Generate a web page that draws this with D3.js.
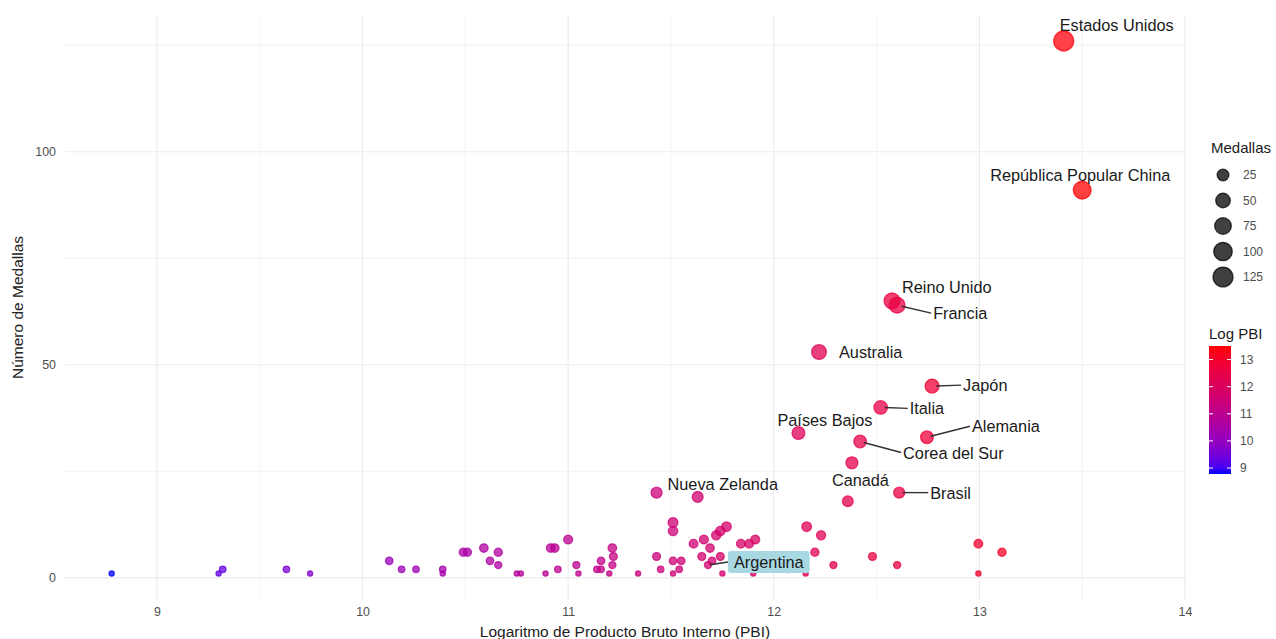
<!DOCTYPE html>
<html>
<head>
<meta charset="utf-8">
<script src="https://cdn.jsdelivr.net/npm/d3@7"></script>
<style>
  html, body { margin: 0; padding: 0; background: #ffffff; }
  svg { display: block; font-family: "Liberation Sans", Arial, sans-serif; }
</style>
</head>
<body>
<svg id="chart" width="1276" height="639"></svg>
<script>
// ---------------- DATA ----------------
const countries = [
  "Estados Unidos", "República Popular China", "Reino Unido", "Francia", "Australia",
  "Japón", "Italia", "Países Bajos", "Alemania", "Corea del Sur", "Canadá", "Brasil",
  "Nueva Zelanda", "Argentina"
];
const countryLogPBI = [13.41, 13.50, 12.575, 12.60, 12.22, 12.77, 12.52, 12.12, 12.745, 12.42, 12.38, 12.61, 11.43, 11.68];
const countryMedals = [126, 91, 65, 64, 53, 45, 40, 34, 33, 32, 27, 20, 20, 3];

// unlabelled countries
const otherLogPBI = [
  11.63, 12.36, 11.51, 11.51, 11.72, 11.74, 11.77, 12.16, 12.23, 11.00,
  11.66, 11.91, 11.61, 11.84, 11.88, 12.995, 10.59, 10.915, 10.935, 11.215,
  11.69, 10.49, 10.51, 10.66, 12.20, 13.11, 11.22, 11.43, 11.65, 11.74,
  12.48, 10.13, 10.62, 11.16, 11.51, 11.55, 11.70, 10.66, 11.04, 11.215,
  12.29, 12.60, 9.32, 9.63, 10.19, 10.26, 10.39, 10.95, 11.14, 11.16,
  11.45, 11.54, 12.07, 8.78, 9.30, 9.745, 10.39, 10.75, 10.77, 10.89,
  11.05, 11.20, 11.34, 11.51, 11.75, 11.90, 12.155, 12.995
];
const otherMedals = [
  19, 18, 13, 11, 10, 11, 12, 12, 10, 9,
  9, 9, 8, 8, 8, 8, 7, 7, 7, 7,
  7, 6, 6, 6, 6, 6, 5, 5, 5, 5,
  5, 4, 4, 4, 4, 4, 4, 3, 3, 3,
  3, 3, 2, 2, 2, 2, 2, 2, 2, 2,
  2, 2, 2, 1, 1, 1, 1, 1, 1, 1,
  1, 1, 1, 1, 1, 1, 1, 1
];

const xTicks = [9, 10, 11, 12, 13, 14];
const yTicks = [0, 50, 100];
const sizeLegendValues = [25, 50, 75, 100, 125];
const colorLegendTicks = [9, 10, 11, 12, 13];

const xTitle = "Logaritmo de Producto Bruto Interno (PBI)";
const yTitle = "Número de Medallas";
const sizeTitle = "Medallas";
const colorTitle = "Log PBI";

// ---------------- LAYOUT ----------------
const panel = { left: 65, right: 1185, top: 15, bottom: 600 };

// label placement relative to the point (px): text left edge dx, vertical centre dy, draw segment?
const labelLayout = {
  "Estados Unidos":          { dx: -4,  dy: -16, seg: false },
  "República Popular China": { dx: -92, dy: -15, seg: false },
  "Reino Unido":             { dx: 10,  dy: -14, seg: false },
  "Francia":                 { dx: 36,  dy: 8,   seg: true },
  "Australia":               { dx: 20,  dy: 0,   seg: false },
  "Japón":                   { dx: 31,  dy: -1,  seg: true },
  "Italia":                  { dx: 29,  dy: 1,   seg: true },
  "Países Bajos":            { dx: -21, dy: -13, seg: false },
  "Alemania":                { dx: 45,  dy: -11, seg: true },
  "Corea del Sur":           { dx: 43,  dy: 11,  seg: true },
  "Canadá":                  { dx: -20, dy: 17,  seg: false },
  "Brasil":                  { dx: 31,  dy: 0,   seg: true },
  "Nueva Zelanda":           { dx: 11,  dy: -9,  seg: false },
  "Argentina":               { dx: 26,  dy: -3,  seg: true, box: true }
};

// ---------------- BUILD ----------------
const labelled = countries.map((c, i) => ({ name: c, x: countryLogPBI[i], y: countryMedals[i] }));
const others = otherLogPBI.map((v, i) => ({ name: null, x: v, y: otherMedals[i] }));
const all = others.concat(labelled);

const svg = d3.select("#chart");

const x = d3.scaleLinear().domain([8.553, 14.0]).range([panel.left, panel.right]);
const y = d3.scaleLinear().domain([-5.2, 132.1]).range([panel.bottom, panel.top]);

const allX = all.map(d => d.x);
const allY = all.map(d => d.y);
const colorDomain = d3.extent(allX);
const color = d3.scaleLinear().domain(colorDomain).range(["blue", "red"]).interpolate(d3.interpolateLab);

const sizeDomain = d3.extent(allY);
const rMin = 2.6, rMax = 10;
const radius = v => rMin + (rMax - rMin) * Math.sqrt(Math.max(0, (v - sizeDomain[0]) / (sizeDomain[1] - sizeDomain[0])));

// grid
const grid = svg.append("g");
const xMinor = d3.range(9.5, 14, 1).filter(v => x(v) > panel.left && x(v) < panel.right);
const yMinor = [25, 75, 125];
grid.selectAll(".xminor").data(xMinor).join("line")
  .attr("x1", d => x(d)).attr("x2", d => x(d))
  .attr("y1", panel.top).attr("y2", panel.bottom)
  .attr("stroke", "#ebebeb").attr("stroke-width", 0.6);
grid.selectAll(".yminor").data(yMinor).join("line")
  .attr("x1", panel.left).attr("x2", panel.right)
  .attr("y1", d => y(d)).attr("y2", d => y(d))
  .attr("stroke", "#ebebeb").attr("stroke-width", 0.6);
grid.selectAll(".xmajor").data(xTicks).join("line")
  .attr("x1", d => x(d)).attr("x2", d => x(d))
  .attr("y1", panel.top).attr("y2", panel.bottom)
  .attr("stroke", "#ebebeb").attr("stroke-width", 1.1);
grid.selectAll(".ymajor").data(yTicks).join("line")
  .attr("x1", panel.left).attr("x2", panel.right)
  .attr("y1", d => y(d)).attr("y2", d => y(d))
  .attr("stroke", "#ebebeb").attr("stroke-width", 1.1);

// axes (text only, like theme_minimal)
const xAxis = svg.append("g").attr("transform", `translate(0,${panel.bottom + 3})`)
  .call(d3.axisBottom(x).tickValues(xTicks).tickFormat(d3.format("d")).tickSize(0));
xAxis.select(".domain").remove();
xAxis.selectAll("text").attr("fill", "#4d4d4d").style("font-size", "12.4px")
  .style("font-family", "'Liberation Sans', Arial, sans-serif").attr("dy", "0.71em").attr("y", 4);

const yAxis = svg.append("g").attr("transform", `translate(${panel.left - 6},0)`)
  .call(d3.axisLeft(y).tickValues(yTicks).tickFormat(d3.format("d")).tickSize(0));
yAxis.select(".domain").remove();
yAxis.selectAll("text").attr("fill", "#4d4d4d").style("font-size", "12.4px")
  .style("font-family", "'Liberation Sans', Arial, sans-serif").attr("x", -3);

svg.append("text").attr("x", (panel.left + panel.right) / 2).attr("y", 631)
  .attr("text-anchor", "middle").attr("dominant-baseline", "central")
  .style("font-size", "15.5px").attr("fill", "#222").text(xTitle);
svg.append("text").attr("transform", `translate(17,${(panel.top + panel.bottom) / 2}) rotate(-90)`)
  .attr("text-anchor", "middle").attr("dominant-baseline", "central")
  .style("font-size", "15.5px").attr("fill", "#222").text(yTitle);

// points
const alpha = 0.75;
svg.append("g").selectAll("circle").data(all).join("circle")
  .attr("cx", d => x(d.x)).attr("cy", d => y(d.y)).attr("r", d => radius(d.y))
  .attr("fill", d => color(d.x)).attr("fill-opacity", alpha)
  .attr("stroke", d => color(d.x)).attr("stroke-opacity", alpha).attr("stroke-width", 1.3);

// labels
const labelFont = 16.3;
const lab = svg.append("g");
labelled.forEach(d => {
  const L = labelLayout[d.name];
  const px = x(d.x), py = y(d.y);
  const tx = px + L.dx, ty = py + L.dy;
  const t = lab.append("text").attr("x", tx).attr("y", ty)
    .attr("dominant-baseline", "central")
    .style("font-size", labelFont + "px").attr("fill", "#1a1a1a").text(d.name);
  const w = t.node().getComputedTextLength();
  let edgeX = tx - 2, edgeY = ty;
  if (L.box) {
    const pad = 6;
    lab.insert("rect", "text")
      .attr("x", tx - pad).attr("y", ty - 11).attr("width", w + 2 * pad).attr("height", 22)
      .attr("rx", 3).attr("fill", "#a8d8e2");
    edgeX = tx - pad;
  }
  if (L.seg) {
    const r = radius(d.y);
    const ang = Math.atan2(edgeY - py, edgeX - px);
    lab.insert("line", ":first-child")
      .attr("x1", px + Math.cos(ang) * r * 0.6).attr("y1", py + Math.sin(ang) * r * 0.6)
      .attr("x2", edgeX).attr("y2", edgeY)
      .attr("stroke", "#333").attr("stroke-width", 1.4);
  }
});

// size legend
const lg = svg.append("g");
lg.append("text").attr("x", 1211).attr("y", 147).attr("dominant-baseline", "central")
  .style("font-size", "15px").attr("fill", "#1a1a1a").text(sizeTitle);
const sizeY = d3.scalePoint().domain(sizeLegendValues).range([175, 277]);
lg.selectAll(".sk").data(sizeLegendValues).join("circle")
  .attr("cx", 1223).attr("cy", d => sizeY(d)).attr("r", d => radius(d))
  .attr("fill", "#000").attr("fill-opacity", alpha)
  .attr("stroke", "#000").attr("stroke-opacity", alpha).attr("stroke-width", 1.3);
lg.selectAll(".sl").data(sizeLegendValues).join("text")
  .attr("x", 1243).attr("y", d => sizeY(d)).attr("dominant-baseline", "central")
  .style("font-size", "12px").attr("fill", "#4d4d4d").text(d => d);

// colour legend
lg.append("text").attr("x", 1209).attr("y", 333).attr("dominant-baseline", "central")
  .style("font-size", "15px").attr("fill", "#1a1a1a").text(colorTitle);
const barTop = 346, barBottom = 474, barX = 1209, barW = 22;
const cbar = d3.scaleLinear().domain(colorDomain).range([barBottom, barTop]);
const defs = svg.append("defs");
const grad = defs.append("linearGradient").attr("id", "cgrad")
  .attr("x1", "0").attr("y1", "1").attr("x2", "0").attr("y2", "0");
d3.range(0, 1.0001, 0.05).forEach(t => {
  grad.append("stop").attr("offset", t)
    .attr("stop-color", color(colorDomain[0] + t * (colorDomain[1] - colorDomain[0])));
});
lg.append("rect").attr("x", barX).attr("y", barTop).attr("width", barW)
  .attr("height", barBottom - barTop).attr("fill", "url(#cgrad)");
colorLegendTicks.forEach(v => {
  const yy = cbar(v);
  lg.append("line").attr("x1", barX).attr("x2", barX + 4).attr("y1", yy).attr("y2", yy)
    .attr("stroke", "#fff").attr("stroke-width", 1);
  lg.append("line").attr("x1", barX + barW - 4).attr("x2", barX + barW).attr("y1", yy).attr("y2", yy)
    .attr("stroke", "#fff").attr("stroke-width", 1);
});
lg.selectAll(".cl").data(colorLegendTicks).join("text")
  .attr("x", 1240).attr("y", d => cbar(d)).attr("dominant-baseline", "central")
  .style("font-size", "12px").attr("fill", "#4d4d4d").text(d => d);
</script>
</body>
</html>
